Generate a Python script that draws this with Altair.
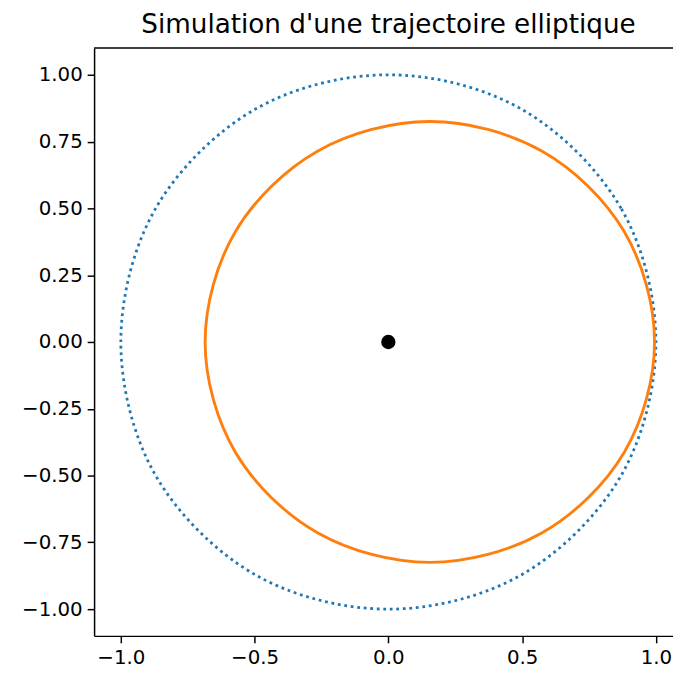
import altair as alt
import pandas as pd

# Blue dotted reference circle
circle_x = [1.0, 0.87, 0.5, 0.0, -0.5, -0.87, -1.0, -0.87, -0.5, 0.0, 0.5, 0.87]
circle_y = [0.0, 0.5, 0.87, 1.0, 0.87, 0.5, 0.0, -0.5, -0.87, -1.0, -0.87, -0.5]

# Orange elliptic trajectory
orbit_x = [0.995, 0.882, 0.575, 0.155, -0.265, -0.572, -0.685, -0.572, -0.265, 0.155, 0.575, 0.882]
orbit_y = [0.0, 0.4125, 0.714, 0.825, 0.714, 0.4125, 0.0, -0.4125, -0.714, -0.825, -0.714, -0.4125]

# Central body
sun_x = [0.0]
sun_y = [0.0]

x_ticks = [-1.0, -0.5, 0.0, 0.5, 1.0]
y_ticks = [-1.0, -0.75, -0.5, -0.25, 0.0, 0.25, 0.5, 0.75, 1.0]

circle_df = pd.DataFrame({"x": circle_x, "y": circle_y, "i": list(range(len(circle_x)))})
orbit_df = pd.DataFrame({"x": orbit_x, "y": orbit_y, "i": list(range(len(orbit_x)))})
sun_df = pd.DataFrame({"x": sun_x, "y": sun_y})

FONT = "DejaVu Sans"

xscale = alt.Scale(domain=[-1.1, 1.064], nice=False, zero=False)
yscale = alt.Scale(domain=[-1.1, 1.1], nice=False, zero=False)

xaxis = alt.Axis(values=x_ticks, format=".1f", title=None, grid=False)
yaxis = alt.Axis(values=y_ticks, format=".2f", title=None, grid=False)

circle = alt.Chart(circle_df).mark_line(
    interpolate="cardinal-closed", color="#1f77b4", strokeWidth=2.8, strokeDash=[2.8, 3.8]
).encode(
    x=alt.X("x:Q", scale=xscale, axis=xaxis),
    y=alt.Y("y:Q", scale=yscale, axis=yaxis),
    order="i:Q",
)

orbit = alt.Chart(orbit_df).mark_line(
    interpolate="cardinal-closed", color="#ff7f0e", strokeWidth=2.9
).encode(
    x=alt.X("x:Q", scale=xscale, axis=xaxis),
    y=alt.Y("y:Q", scale=yscale, axis=yaxis),
    order="i:Q",
)

sun = alt.Chart(sun_df).mark_point(
    filled=True, color="black", size=210, opacity=1, shape="circle"
).encode(
    x=alt.X("x:Q", scale=xscale, axis=xaxis),
    y=alt.Y("y:Q", scale=yscale, axis=yaxis),
)

top_spine = alt.Chart(sun_df).mark_rule(color="black", strokeWidth=1.5).encode(
    y=alt.datum(1.1, scale=yscale)
)

chart = alt.layer(circle, orbit, sun, top_spine).properties(
    width=585,
    height=594,
    title=alt.Title(
        "Simulation d'une trajectoire elliptique",
        font=FONT, fontSize=26.5, fontWeight="normal", color="black",
        anchor="middle", dx=5, offset=9,
    ),
    autosize=alt.AutoSizeParams(type="none"),
    padding={"left": 87, "top": 37, "right": 0, "bottom": 31},
    background="white",
).configure_view(stroke=None).configure_axis(
    labelFont=FONT, labelFontSize=20, labelColor="black",
    domainColor="black", domainWidth=1.5,
    tickColor="black", tickWidth=1.5, tickSize=7,
    labelPadding=5,
)

chart.save("out.html", embed_options={"renderer": "svg", "actions": False})
